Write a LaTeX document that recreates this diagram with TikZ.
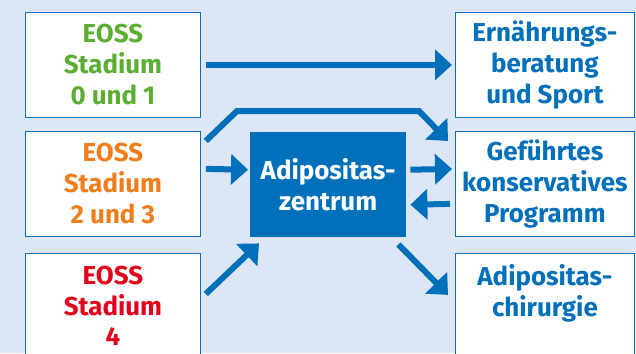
\documentclass[tikz,border=0pt]{standalone}
\usepackage{fontspec}
\setmainfont{Fira Sans}[UprightFont={* SemiBold},BoldFont={* Bold}]
\usetikzlibrary{arrows.meta}
\definecolor{bg}{HTML}{DCE6F5}
\definecolor{myblue}{HTML}{0070BA}
\definecolor{mygreen}{HTML}{5BAE32}
\definecolor{myorange}{HTML}{EE7D1A}
\definecolor{myred}{HTML}{E2001A}
\tikzset{
  box/.style={draw=myblue, line width=0.8bp, fill=white, minimum width=175bp, minimum height=105bp, anchor=north west, align=center, font=\fontsize{26}{31}\selectfont\bfseries, inner sep=0pt},
  center/.style={fill=myblue, text=white, minimum width=156bp, minimum height=105bp, anchor=north west, align=center, font=\fontsize{26}{31}\selectfont\bfseries, inner sep=0pt},
  arr/.style={myblue, line width=6bp, -{Triangle[length=17bp,width=30bp]}},
}
\begin{document}
\begin{tikzpicture}[x=1bp,y=-1bp]
\fill[bg] (0,0) rectangle (636,353);
\useasboundingbox (0,0) rectangle (636,353);
\node[box, text=mygreen] (l1) at (25,12) {EOSS\\Stadium\\0 und 1};
\node[box, text=myorange] (l2) at (25,131) {EOSS\\Stadium\\2 und 3};
\node[box, text=myred] (l3) at (25,253) {EOSS\\Stadium\\4};
\node[box, text=myblue, minimum width=179bp] (r1) at (455,12) {Ernährungs-\\beratung\\und Sport};
\node[box, text=myblue, minimum width=179bp] (r2) at (455,131) {Geführtes\\konservatives\\Programm};
\node[box, text=myblue, minimum width=179bp] (r3) at (455,253) {Adipositas-\\chirurgie\\\mbox{}};
\node[center] (c) at (250,132) {Adipositas-\\zentrum};
\coordinate (k1) at (237,111);
\coordinate (k2) at (419,111);
\draw[arr] ([xshift=5bp]l1.east) -- ([xshift=-3bp]r1.west);
\draw[arr] ([xshift=5bp,yshift=15bp]l2.east) -- ([xshift=-2bp,yshift=15bp]c.west);
\draw[arr] ([xshift=4bp,yshift=15bp]c.east) -- ([xshift=-3bp,yshift=15bp]r2.west);
\draw[arr] ([xshift=-5bp,yshift=-20bp]r2.west) -- ([xshift=4bp,yshift=-20bp]c.east);
\draw[arr, line join=miter] ([xshift=5bp,yshift=43bp]l2.east) -- (k1) -- (k2) -- ([xshift=-7bp,yshift=-10bp]r2.north west);
\draw[arr] ([xshift=5bp,yshift=12bp]l3.east) -- ([xshift=9bp,yshift=-6bp]c.south west);
\draw[arr] ([xshift=-8bp,yshift=-7bp]c.south east) -- ([xshift=-7bp,yshift=11bp]r3.west);
\end{tikzpicture}
\end{document}
